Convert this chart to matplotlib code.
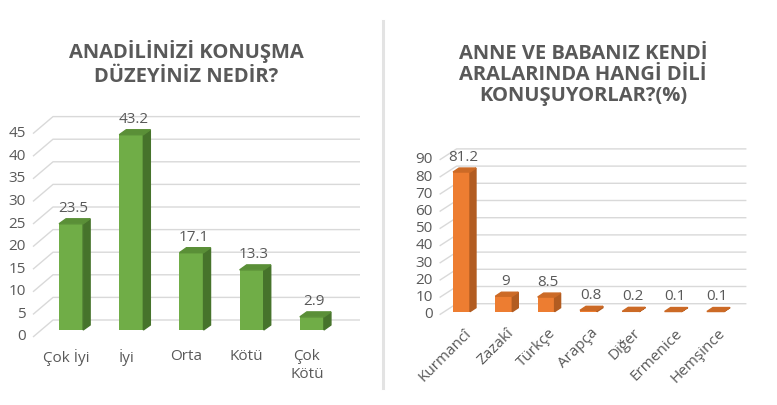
import matplotlib.pyplot as plt
from matplotlib.patches import Polygon
from matplotlib.lines import Line2D

plt.rcParams['font.family'] = ['Open Sans', 'DejaVu Sans']

# data
left_cats = ['Çok İyi', 'İyi', 'Orta', 'Kötü', 'Çok\nKötü']
left_vals = [23.5, 43.2, 17.1, 13.3, 2.9]
left_ticks = list(range(0, 50, 5))

right_cats = ['Kurmancî', 'Zazakî', 'Türkçe', 'Arapça', 'Diğer', 'Ermenice', 'Hemşince']
right_vals = [81.2, 9, 8.5, 0.8, 0.2, 0.1, 0.1]
right_ticks = list(range(0, 100, 10))

W, H = 777, 405
fig = plt.figure(figsize=(W / 100, H / 100), dpi=100)
TXT = '#595959'
GRID = '#D9D9D9'
FS = 11


def panel(box, xlim, ylim, cats, vals, ticks, cols, depth, back, front, rotated):
    l, t, w, h = box
    ax = fig.add_axes([l / W, (H - t - h) / H, w / W, h / H])
    ax.set_xlim(xlim)
    ax.set_ylim(ylim)
    ax.axis('off')
    kx = w / (xlim[1] - xlim[0])
    ky = h / (ylim[1] - ylim[0])
    x0, x1 = xlim

    # gridlines on the back wall + slanted floor edge
    for v in ticks:
        yb = v + back[1] / ky
        ax.plot([x0 + front[0] / kx, x0 + back[0] / kx, x1 + back[0] / kx],
                [v + front[1] / ky, yb, yb], color=GRID, lw=1.0,
                zorder=1, clip_on=False, solid_capstyle='butt')
        ax.text(x0 + (front[0] - 7) / kx, v + front[1] / ky, str(v),
                ha='right', va='center', fontsize=FS, color=TXT)

    c_front, c_side, c_top = cols
    bw = 0.4
    xs = list(range(len(vals)))
    ax.bar(xs, vals, width=bw, color=c_front, zorder=3, clip_on=False)
    dx, dy = depth[0] / kx, depth[1] / ky
    for x, v in zip(xs, vals):
        xr = x + bw / 2
        ax.add_patch(Polygon([(xr, 0), (xr + dx, dy), (xr + dx, v + dy), (xr, v)],
                             closed=True, color=c_side, zorder=3, clip_on=False))
        ax.add_patch(Polygon([(x - bw / 2, v), (xr, v), (xr + dx, v + dy),
                              (x - bw / 2 + dx, v + dy)],
                             closed=True, color=c_top, zorder=3, clip_on=False))
        ax.text(x + 2 / kx, v + 15 / ky, f'{v:g}', ha='center', va='center',
                fontsize=FS, color=TXT)

    for x, c in zip(xs, cats):
        if rotated:
            ax.text(x + 2 / kx, -14 / ky, c, ha='right', va='top', rotation=45,
                    rotation_mode='anchor', fontsize=FS, color=TXT)
        else:
            ax.text(x - 5 / kx, -19 / ky, c, ha='center', va='top',
                    fontsize=FS, color=TXT, linespacing=1.25)
    return ax


panel((41, 104, 307, 226), (-0.5, 4.6), (0, 50), left_cats, left_vals, left_ticks,
      ('#70AD47', '#46732B', '#5A8F37'), (7, 5), (12, 10), (-8, -7), False)

panel((444.6, 139.7, 289.8, 172), (-0.4, 6.45), (0, 100), right_cats, right_vals,
      right_ticks, ('#ED7D31', '#B25C21', '#CC6A26'), (6, 4), (12, 8), (-5, -3), True)

# titles
tkw = dict(ha='center', va='baseline', fontsize=14.5, fontweight='bold', color=TXT)
fig.text(186.5 / W, 1 - 58 / H, 'ANADİLİNİZİ KONUŞMA', **tkw)
fig.text(186.5 / W, 1 - 82.5 / H, 'DÜZEYİNİZ NEDİR?', **tkw)
fig.text(583 / W, 1 - 59 / H, 'ANNE VE BABANIZ KENDİ', **tkw)
fig.text(583 / W, 1 - 80 / H, 'ARALARINDA HANGİ DİLİ', **tkw)
fig.text(583 / W, 1 - 100.5 / H, 'KONUŞUYORLAR?(%)', **tkw)

# divider between the two charts
fig.add_artist(Line2D([383 / W, 383 / W], [1 - 21 / H, 1 - 388 / H],
                      color='#E3E3E3', lw=2.2))

fig.savefig('out.png', dpi=100)
